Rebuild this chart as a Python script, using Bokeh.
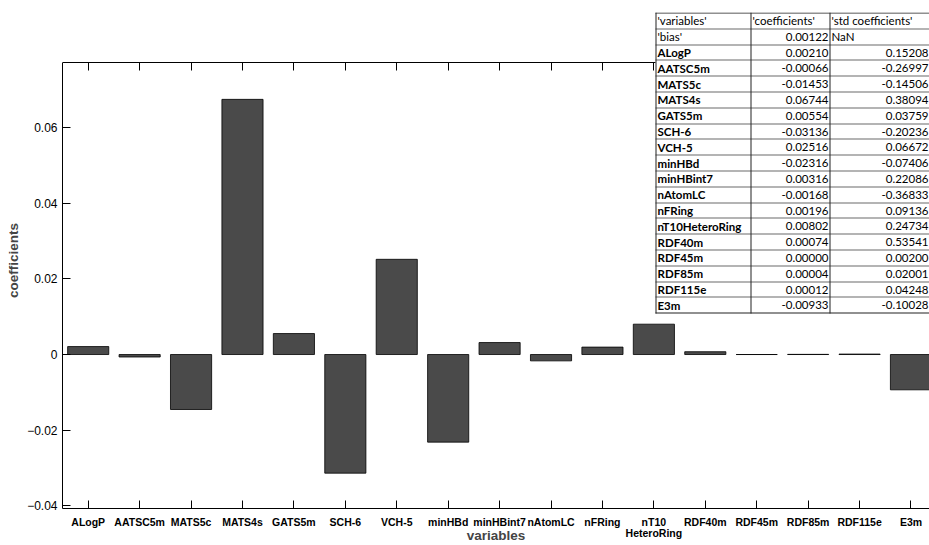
from bokeh.plotting import figure
from bokeh.models import Range1d, FixedTicker, LinearAxis, Label, BoxAnnotation, AllLabels
from bokeh.embed import file_html
from bokeh.resources import INLINE

# ---------------- data ----------------
variables = ["ALogP", "AATSC5m", "MATS5c", "MATS4s", "GATS5m", "SCH-6", "VCH-5",
             "minHBd", "minHBint7", "nAtomLC", "nFRing", "nT10HeteroRing",
             "RDF40m", "RDF45m", "RDF85m", "RDF115e", "E3m"]
tick_labels = ["ALogP", "AATSC5m", "MATS5c", "MATS4s", "GATS5m", "SCH-6", "VCH-5",
               "minHBd", "minHBint7", "nAtomLC", "nFRing", "nT10\nHeteroRing",
               "RDF40m", "RDF45m", "RDF85m", "RDF115e", "E3m"]
coefficients = [0.00210, -0.00066, -0.01453, 0.06744, 0.00554, -0.03136, 0.02516,
                -0.02316, 0.00316, -0.00168, 0.00196, 0.00802, 0.00074, 0.00000,
                0.00004, 0.00012, -0.00933]
bias = 0.00122
std_coefficients = [0.15208, -0.26997, -0.14506, 0.38094, 0.03759, -0.20236, 0.06672,
                    -0.07406, 0.22086, -0.36833, 0.09136, 0.24734, 0.53541, 0.00200,
                    0.02001, 0.04248, -0.10028]
y_ticks = [-0.04, -0.02, 0.0, 0.02, 0.04, 0.06]
y_min, y_box_top, y_canvas_top = -0.0407, 0.0772, 0.0904

xs = list(range(1, len(variables) + 1))

FONT = "Liberation Sans"
TFONT = "Lato"

p = figure(width=929, height=545, output_backend="svg", toolbar_location=None,
           x_range=Range1d(0.5, 17.36), y_range=Range1d(y_min, y_canvas_top),
           min_border_left=62, min_border_right=0, min_border_top=12,
           min_border_bottom=37)
p.grid.visible = False
p.outline_line_color = None
p.background_fill_color = "white"
p.border_fill_color = "white"

p.vbar(x=xs, top=coefficients, bottom=0, width=0.8,
       fill_color="#4a4a4a", line_color="black", line_width=0.8)

# bottom axis
xa = p.xaxis[0]
xa.ticker = FixedTicker(ticks=xs)
xa.major_label_overrides = {i: t for i, t in zip(xs, tick_labels)}
xa.major_label_policy = AllLabels()
xa.major_tick_in = 8
xa.major_tick_out = 0
xa.minor_tick_line_color = None
xa.major_label_standoff = 7
xa.major_label_text_font = FONT
xa.major_label_text_font_style = "bold"
xa.major_label_text_font_size = "10.5px"
xa.major_label_text_line_height = 0.95
xa.major_label_text_color = "black"
xa.axis_line_color = "black"
xa.axis_label = "variables"
xa.axis_label_text_font = FONT
xa.axis_label_text_font_style = "bold"
xa.axis_label_text_font_size = "13.5px"
xa.axis_label_standoff = -14

# left axis
ya = p.yaxis[0]
ya.ticker = FixedTicker(ticks=y_ticks)
ya.bounds = (y_min, y_box_top)
ya.major_label_overrides = {0: "0"}
ya.major_tick_in = 8
ya.major_tick_out = 0
ya.minor_tick_line_color = None
ya.major_label_standoff = 5
ya.major_label_text_font = FONT
ya.major_label_text_font_size = "12px"
ya.major_label_text_color = "black"
ya.axis_label = "coefficients"
ya.axis_label_text_font = FONT
ya.axis_label_text_font_style = "bold"
ya.axis_label_text_font_size = "13.5px"
ya.axis_label_standoff = 3
ya.axis_line_color = "black"

# top edge of the axes box, with inward ticks
top_axis = LinearAxis(ticker=FixedTicker(ticks=xs), fixed_location=y_box_top,
                      major_tick_in=8, major_tick_out=0, major_label_standoff=0,
                      major_label_text_font_size="2px",
                      major_label_overrides={i: "" for i in xs},
                      minor_tick_line_color=None, axis_line_color="black")
p.add_layout(top_axis, "above")

# screen helpers (relative to frame bottom-left)
FL, FB = 62, 508
def sx(X):
    return X - FL
def sy(Y):
    return FB - Y

# ---------------- table ----------------
TX0, TX1, TX2, TX3 = 655, 750, 829, 935
TY0, RH = 12, 15.8
nrows = len(variables) + 2
TYB = TY0 + nrows * RH

p.add_layout(BoxAnnotation(left=sx(TX0), right=sx(TX3), top=sy(TY0), bottom=sy(TYB),
                           left_units="screen", right_units="screen",
                           top_units="screen", bottom_units="screen",
                           fill_color="white", fill_alpha=1.0, line_color=None))

def hline(Y, X0, X1, color):
    Y = round(Y)
    p.add_layout(BoxAnnotation(left=sx(X0), right=sx(X1), top=sy(Y), bottom=sy(Y + 1),
                               left_units="screen", right_units="screen",
                               top_units="screen", bottom_units="screen",
                               fill_color=color, fill_alpha=1.0, line_color=None))

def vline(X, Y0, Y1, color):
    X = round(X)
    p.add_layout(BoxAnnotation(left=sx(X), right=sx(X + 1), top=sy(Y0), bottom=sy(Y1),
                               left_units="screen", right_units="screen",
                               top_units="screen", bottom_units="screen",
                               fill_color=color, fill_alpha=1.0, line_color=None))

for k in range(nrows + 1):
    col = "#222222" if k in (0, nrows) else "#6a6a6a"
    hline(TY0 + k * RH, TX0, TX3, col)
for X in (TX0, TX1, TX2):
    vline(X, round(TY0), round(TYB) + 1, "#222222")

def cell(X, Yc, text, align="left", bold=False):
    p.add_layout(Label(x=sx(X), y=sy(Yc), x_units="screen", y_units="screen",
                       text=text, text_align=align, text_baseline="middle",
                       text_font=TFONT, text_font_size="11.5px",
                       text_font_style="bold" if bold else "normal",
                       text_color="black"))

def fmt(v):
    return f"{v:.5f}"

rows = [("'variables'", "'coefficients'", "'std coefficients'", "hdr"),
        ("'bias'", fmt(bias), "NaN", "bias")]
for name, c, s in zip(variables, coefficients, std_coefficients):
    rows.append((name, fmt(c), fmt(s), "var"))

for k, (a, b, c, kind) in enumerate(rows):
    yc = TY0 + (k + 0.5) * RH + 0.5
    if kind == "hdr":
        cell(TX0 + 2, yc, a)
        cell(TX1 + 2, yc, b)
        cell(TX2 + 2, yc, c)
    elif kind == "bias":
        cell(TX0 + 2, yc, a)
        cell(TX2 - 1, yc, b, align="right")
        cell(TX2 + 2, yc, c)
    else:
        cell(TX0 + 2, yc, a, bold=True)
        cell(TX2 - 1, yc, b, align="right")
        cell(TX3 - 7, yc, c, align="right")

open("out.html", "w").write(file_html(p, INLINE))
